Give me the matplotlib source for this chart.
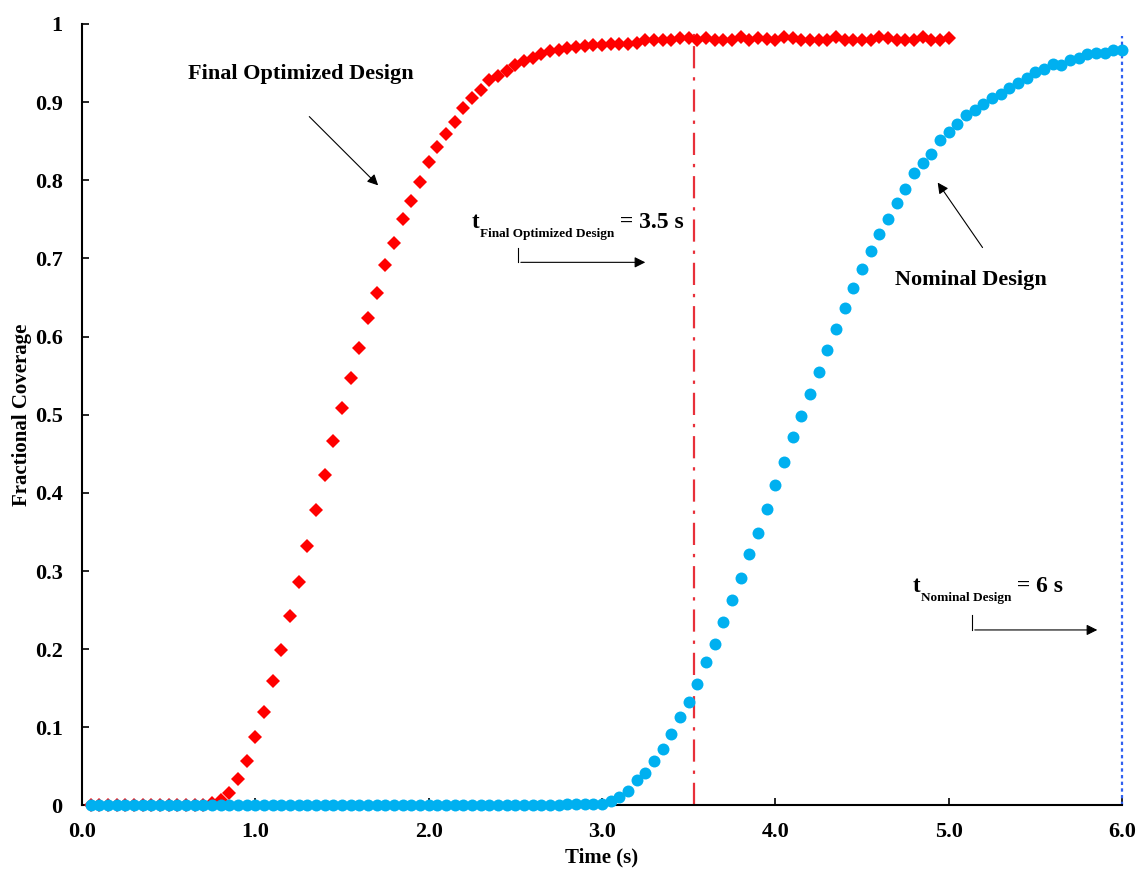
"""Fractional coverage vs time: nominal vs final optimized design."""

import numpy as np
import matplotlib
matplotlib.use("Agg")
import matplotlib.pyplot as plt
from matplotlib.transforms import offset_copy

plt.rcParams["font.family"] = "Liberation Serif"
plt.rcParams["font.weight"] = "bold"
plt.rcParams["axes.labelweight"] = "bold"

# sampling step of both runs (s)
DT = 0.05

OPTIMIZED = [0.0] * 14 + [
    0.003, 0.007, 0.016, 0.034, 0.057, 0.088, 0.120, 0.159, 0.199, 0.243,
    0.286, 0.332, 0.378, 0.423, 0.466, 0.509, 0.547, 0.585, 0.624, 0.656,
    0.692, 0.720, 0.751, 0.774, 0.798, 0.823, 0.843, 0.859, 0.875, 0.892,
    0.905, 0.915, 0.928, 0.933, 0.940, 0.947, 0.952, 0.957, 0.962, 0.965,
    0.967, 0.969, 0.971, 0.972, 0.973, 0.973, 0.974, 0.974,
    0.974, 0.976, 0.979, 0.979, 0.979, 0.980, 0.982, 0.982, 0.979, 0.982,
    0.979, 0.979, 0.979, 0.983, 0.980, 0.982, 0.981, 0.980, 0.983, 0.982,
    0.979, 0.979, 0.979, 0.979, 0.983, 0.980, 0.979, 0.979, 0.980, 0.983,
    0.982, 0.980, 0.979, 0.980, 0.983, 0.979, 0.979, 0.982,
]

NOMINAL = [0.0] * 55 + [0.002] * 5 + [
    0.006, 0.011, 0.019, 0.032, 0.042, 0.057, 0.072, 0.092, 0.113, 0.133,
    0.156, 0.183, 0.206, 0.235, 0.263, 0.291, 0.322, 0.349, 0.379, 0.410,
    0.440, 0.471, 0.499, 0.527, 0.555, 0.583, 0.610, 0.636, 0.662, 0.687,
    0.710, 0.731, 0.750, 0.771, 0.789, 0.809, 0.822, 0.834, 0.852, 0.862,
    0.872, 0.883, 0.890, 0.898, 0.905, 0.910, 0.918, 0.925, 0.931,
    0.938, 0.943, 0.949, 0.948, 0.954, 0.956, 0.961, 0.963, 0.963, 0.967,
    0.967,
]

T_OPTIMIZED = 3.53
T_NOMINAL = 6.0

X_TICKS = [0, 1, 2, 3, 4, 5, 6]
Y_TICKS = [0, 0.1, 0.2, 0.3, 0.4, 0.5, 0.6, 0.7, 0.8, 0.9, 1.0]
Y_LABELS = ["0", "0.1", "0.2", "0.3", "0.4", "0.5", "0.6", "0.7", "0.8", "0.9", "1"]


def subscript_label(ax, x, y, sub, rest):
    """Draw t_sub = rest as three texts placed one after the other."""
    fig = ax.figure
    renderer = fig.canvas.get_renderer()
    parts = [("t", 16.5, 0), (sub, 9.5, -9), (" " + rest, 17, 0)]
    dx = 0.0
    for s, size, dy in parts:
        tr = offset_copy(ax.transData, fig=fig, x=dx, y=dy, units="dots")
        txt = ax.text(x, y, s, fontsize=size, fontweight="bold",
                      ha="left", va="baseline", transform=tr)
        dx += txt.get_window_extent(renderer).width


def main():
    t_opt = DT * np.arange(1, len(OPTIMIZED) + 1)
    t_nom = DT * np.arange(1, len(NOMINAL) + 1)

    fig = plt.figure(figsize=(11.39, 8.69), dpi=100)
    ax = fig.add_axes([0.072, 0.0731, 0.913, 0.8993])

    ax.plot(t_opt, OPTIMIZED, "D", color="#ff0000", markersize=6.8,
            markeredgewidth=0, clip_on=False, zorder=3)
    ax.plot(t_nom, NOMINAL, "o", color="#00b0f0", markersize=8.6,
            markeredgewidth=0, clip_on=False, zorder=4)

    ax.plot([T_OPTIMIZED, T_OPTIMIZED], [0, 0.99], color="#e8303a",
            lw=1.6, dashes=(10, 4, 1.5, 4), zorder=2)
    ax.plot([T_NOMINAL, T_NOMINAL], [0, 0.985], color="#3060f0",
            lw=1.6, dashes=(1.5, 1.5), clip_on=False, zorder=2)

    arrow = dict(arrowstyle="-|>", color="black", lw=0.8, mutation_scale=16)

    ax.text(1.264, 0.936, "Final Optimized Design", fontsize=16,
            ha="center", va="center")
    ax.annotate("", xy=(1.72, 0.791), xytext=(1.30, 0.884), arrowprops=arrow)

    ax.text(5.13, 0.672, "Nominal Design", fontsize=16,
            ha="center", va="center")
    ax.annotate("", xy=(4.928, 0.80), xytext=(5.205, 0.711), arrowprops=arrow)

    subscript_label(ax, 2.25, 0.739, "Final Optimized Design", "= 3.5 s")
    ax.plot([2.516, 2.516], [0.713, 0.695], color="black", lw=0.8)
    ax.annotate("", xy=(3.266, 0.695), xytext=(2.516, 0.695), arrowprops=arrow)

    subscript_label(ax, 4.795, 0.273, "Nominal Design", "= 6 s")
    ax.plot([5.135, 5.135], [0.244, 0.2246], color="black", lw=0.8)
    ax.annotate("", xy=(5.874, 0.2246), xytext=(5.135, 0.2246), arrowprops=arrow)

    ax.set_xlim(0, 6)
    ax.set_ylim(0, 1)
    ax.set_xticks(X_TICKS)
    ax.set_xticklabels([f"{x:.1f}" for x in X_TICKS])
    ax.set_yticks(Y_TICKS)
    ax.set_yticklabels(Y_LABELS)
    ax.tick_params(direction="in", length=5, width=1.2, labelsize=16)
    ax.tick_params(axis="x", pad=12)
    ax.tick_params(axis="y", pad=14)

    for side in ("top", "right"):
        ax.spines[side].set_visible(False)
    for side in ("left", "bottom"):
        ax.spines[side].set_linewidth(1.5)

    ax.set_xlabel("Time (s)", fontsize=15, labelpad=4)
    ax.set_ylabel("Fractional Coverage", fontsize=15, labelpad=2)

    fig.savefig("out.png", dpi=100)


if __name__ == "__main__":
    main()
